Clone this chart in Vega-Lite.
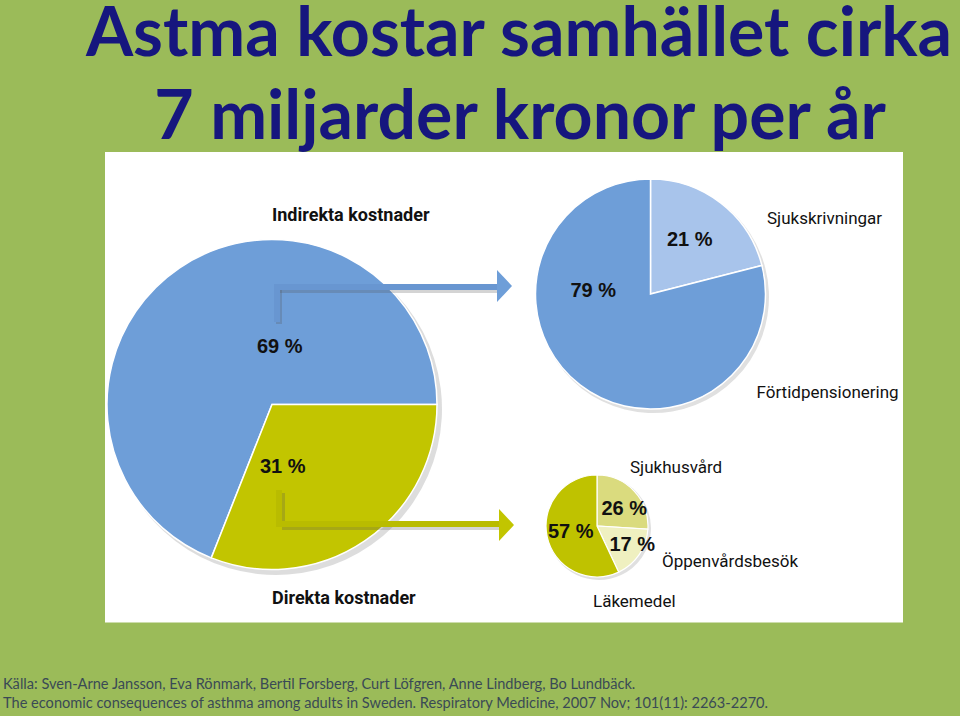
{
  "$schema": "https://vega.github.io/schema/vega-lite/v6.json",
  "width": 960,
  "height": 716,
  "padding": 0,
  "autosize": {"type": "none"},
  "background": "#9BBB59",
  "config": {"view": {"stroke": null}},
  "datasets": {
    "panel": [{"panel": "figur"}],
    "slices": [
      {"pie": "Totalt", "category": "Indirekta kostnader", "pct": 69},
      {"pie": "Totalt", "category": "Direkta kostnader", "pct": 31},
      {"pie": "Indirekta", "category": "Sjukskrivningar", "pct": 21},
      {"pie": "Indirekta", "category": "Förtidpensionering", "pct": 79},
      {"pie": "Direkta", "category": "Sjukhusvård", "pct": 26},
      {"pie": "Direkta", "category": "Öppenvårdsbesök", "pct": 17},
      {"pie": "Direkta", "category": "Läkemedel", "pct": 57}
    ],
    "texts": [
      {"kind": "title", "line": 1, "text": "Astma kostar samhället cirka"},
      {"kind": "title", "line": 2, "text": "7 miljarder kronor per år"},
      {"kind": "source", "line": 1, "text": "Källa: Sven-Arne Jansson, Eva Rönmark, Bertil Forsberg, Curt Löfgren, Anne Lindberg, Bo Lundbäck."},
      {"kind": "source", "line": 2, "text": "The economic consequences of asthma among adults in Sweden. Respiratory Medicine, 2007 Nov; 101(11): 2263-2270."}
    ]
  },
  "data": {"name": "panel"},
  "resolve": {"scale": {"theta": "independent"}},
  "layer": [
    {
      "mark": {"type": "rect", "color": "white"},
      "encoding": {
        "x": {"datum": 105, "type": "quantitative", "scale": {"domain": [0, 960], "nice": false, "zero": false}, "axis": null},
        "x2": {"datum": 903},
        "y": {"datum": 152, "type": "quantitative", "scale": {"domain": [0, 716], "nice": false, "zero": false, "reverse": true}, "axis": null},
        "y2": {"datum": 622.5}
      }
    },
    {
      "data": {"name": "slices"},
      "transform": [{"filter": "datum.pie === 'Totalt'"}],
      "mark": {"type": "arc", "radius": 166, "color": "#666666", "opacity": 0.22},
      "encoding": {
        "x": {"datum": 276, "type": "quantitative", "scale": {"domain": [0, 960], "nice": false, "zero": false}, "axis": null},
        "y": {"datum": 409, "type": "quantitative", "scale": {"domain": [0, 716], "nice": false, "zero": false, "reverse": true}, "axis": null},
        "theta": {"field": "pct", "type": "quantitative", "stack": true}
      }
    },
    {
      "data": {"name": "slices"},
      "transform": [{"filter": "datum.pie === 'Indirekta'"}],
      "mark": {"type": "arc", "radius": 116, "color": "#666666", "opacity": 0.2},
      "encoding": {
        "x": {"datum": 653, "type": "quantitative", "scale": {"domain": [0, 960], "nice": false, "zero": false}, "axis": null},
        "y": {"datum": 297, "type": "quantitative", "scale": {"domain": [0, 716], "nice": false, "zero": false, "reverse": true}, "axis": null},
        "theta": {"field": "pct", "type": "quantitative", "stack": true}
      }
    },
    {
      "data": {"name": "slices"},
      "transform": [{"filter": "datum.pie === 'Direkta'"}],
      "mark": {"type": "arc", "radius": 52, "color": "#666666", "opacity": 0.2},
      "encoding": {
        "x": {"datum": 599, "type": "quantitative", "scale": {"domain": [0, 960], "nice": false, "zero": false}, "axis": null},
        "y": {"datum": 528, "type": "quantitative", "scale": {"domain": [0, 716], "nice": false, "zero": false, "reverse": true}, "axis": null},
        "theta": {"field": "pct", "type": "quantitative", "stack": true}
      }
    },
    {
      "data": {"name": "slices"},
      "transform": [{"filter": "datum.pie === 'Totalt'"}],
      "mark": {"type": "arc", "radius": 165, "stroke": "white", "strokeWidth": 1.5},
      "encoding": {
        "x": {"datum": 272, "type": "quantitative", "scale": {"domain": [0, 960], "nice": false, "zero": false}, "axis": null},
        "y": {"datum": 404.5, "type": "quantitative", "scale": {"domain": [0, 716], "nice": false, "zero": false, "reverse": true}, "axis": null},
        "theta": {"field": "pct", "type": "quantitative", "stack": true, "scale": {"range": [3.5186, 9.8018]}},
        "order": {"field": "pct", "sort": "descending"},
        "color": {
          "field": "category", "type": "nominal", "legend": null,
          "scale": {
            "domain": ["Indirekta kostnader", "Direkta kostnader", "Sjukskrivningar", "Förtidpensionering", "Sjukhusvård", "Öppenvårdsbesök", "Läkemedel"],
            "range": ["#6E9ED8", "#C2C500", "#A8C4EB", "#6E9ED8", "#DADB7E", "#EFF0C0", "#BFC200"]
          }
        }
      }
    },
    {
      "data": {"name": "slices"},
      "transform": [{"filter": "datum.pie === 'Indirekta'"}],
      "mark": {"type": "arc", "radius": 115, "stroke": "white", "strokeWidth": 1.5},
      "encoding": {
        "x": {"datum": 650.5, "type": "quantitative", "scale": {"domain": [0, 960], "nice": false, "zero": false}, "axis": null},
        "y": {"datum": 294, "type": "quantitative", "scale": {"domain": [0, 716], "nice": false, "zero": false, "reverse": true}, "axis": null},
        "theta": {"field": "pct", "type": "quantitative", "stack": true, "scale": {"range": [1.3195, 7.6027]}},
        "order": {"field": "pct", "sort": "descending"},
        "color": {"field": "category", "type": "nominal", "legend": null}
      }
    },
    {
      "data": {"name": "slices"},
      "transform": [{"filter": "datum.pie === 'Direkta'"}],
      "mark": {"type": "arc", "radius": 51, "stroke": "white", "strokeWidth": 1.2},
      "encoding": {
        "x": {"datum": 597, "type": "quantitative", "scale": {"domain": [0, 960], "nice": false, "zero": false}, "axis": null},
        "y": {"datum": 526, "type": "quantitative", "scale": {"domain": [0, 716], "nice": false, "zero": false, "reverse": true}, "axis": null},
        "theta": {"field": "pct", "type": "quantitative", "stack": true, "scale": {"range": [2.7018, 8.9850]}},
        "order": {"field": "pct", "sort": "descending"},
        "color": {"field": "category", "type": "nominal", "legend": null}
      }
    },
    {
      "mark": {"type": "rule", "color": "#555555", "opacity": 0.25, "strokeWidth": 6},
      "encoding": {
        "x": {"datum": 279, "type": "quantitative", "scale": {"domain": [0, 960], "nice": false, "zero": false}, "axis": null},
        "x2": {"datum": 499},
        "y": {"datum": 290, "type": "quantitative", "scale": {"domain": [0, 716], "nice": false, "zero": false, "reverse": true}, "axis": null},
        "y2": {"datum": 290}
      }
    },
    {
      "mark": {"type": "rule", "color": "#555555", "opacity": 0.25, "strokeWidth": 6},
      "encoding": {
        "x": {"datum": 279, "type": "quantitative", "scale": {"domain": [0, 960], "nice": false, "zero": false}, "axis": null},
        "y": {"datum": 290, "type": "quantitative", "scale": {"domain": [0, 716], "nice": false, "zero": false, "reverse": true}, "axis": null},
        "y2": {"datum": 324}
      }
    },
    {
      "mark": {"type": "rule", "color": "#6896D1", "strokeWidth": 6},
      "encoding": {
        "x": {"datum": 274, "type": "quantitative", "scale": {"domain": [0, 960], "nice": false, "zero": false}, "axis": null},
        "x2": {"datum": 498},
        "y": {"datum": 287, "type": "quantitative", "scale": {"domain": [0, 716], "nice": false, "zero": false, "reverse": true}, "axis": null},
        "y2": {"datum": 287}
      }
    },
    {
      "mark": {"type": "rule", "color": "#6896D1", "strokeWidth": 6},
      "encoding": {
        "x": {"datum": 277, "type": "quantitative", "scale": {"domain": [0, 960], "nice": false, "zero": false}, "axis": null},
        "y": {"datum": 284, "type": "quantitative", "scale": {"domain": [0, 716], "nice": false, "zero": false, "reverse": true}, "axis": null},
        "y2": {"datum": 322}
      }
    },
    {
      "mark": {"type": "point", "filled": true, "color": "#6E9ED8", "opacity": 1, "size": 1024, "shape": "M-0.47,-1L0.47,0L-0.47,1Z"},
      "encoding": {
        "x": {"datum": 504.5, "type": "quantitative", "scale": {"domain": [0, 960], "nice": false, "zero": false}, "axis": null},
        "y": {"datum": 286, "type": "quantitative", "scale": {"domain": [0, 716], "nice": false, "zero": false, "reverse": true}, "axis": null}
      }
    },
    {
      "mark": {"type": "rule", "color": "#555555", "opacity": 0.25, "strokeWidth": 6},
      "encoding": {
        "x": {"datum": 282, "type": "quantitative", "scale": {"domain": [0, 960], "nice": false, "zero": false}, "axis": null},
        "x2": {"datum": 500},
        "y": {"datum": 527, "type": "quantitative", "scale": {"domain": [0, 716], "nice": false, "zero": false, "reverse": true}, "axis": null},
        "y2": {"datum": 527}
      }
    },
    {
      "mark": {"type": "rule", "color": "#555555", "opacity": 0.25, "strokeWidth": 6},
      "encoding": {
        "x": {"datum": 282, "type": "quantitative", "scale": {"domain": [0, 960], "nice": false, "zero": false}, "axis": null},
        "y": {"datum": 493, "type": "quantitative", "scale": {"domain": [0, 716], "nice": false, "zero": false, "reverse": true}, "axis": null},
        "y2": {"datum": 527}
      }
    },
    {
      "mark": {"type": "rule", "color": "#B9BC00", "strokeWidth": 6},
      "encoding": {
        "x": {"datum": 276, "type": "quantitative", "scale": {"domain": [0, 960], "nice": false, "zero": false}, "axis": null},
        "x2": {"datum": 499},
        "y": {"datum": 524, "type": "quantitative", "scale": {"domain": [0, 716], "nice": false, "zero": false, "reverse": true}, "axis": null},
        "y2": {"datum": 524}
      }
    },
    {
      "mark": {"type": "rule", "color": "#B9BC00", "strokeWidth": 6},
      "encoding": {
        "x": {"datum": 279, "type": "quantitative", "scale": {"domain": [0, 960], "nice": false, "zero": false}, "axis": null},
        "y": {"datum": 490, "type": "quantitative", "scale": {"domain": [0, 716], "nice": false, "zero": false, "reverse": true}, "axis": null},
        "y2": {"datum": 527}
      }
    },
    {
      "mark": {"type": "point", "filled": true, "color": "#C2C500", "opacity": 1, "size": 1024, "shape": "M-0.47,-1L0.47,0L-0.47,1Z"},
      "encoding": {
        "x": {"datum": 506.5, "type": "quantitative", "scale": {"domain": [0, 960], "nice": false, "zero": false}, "axis": null},
        "y": {"datum": 525, "type": "quantitative", "scale": {"domain": [0, 716], "nice": false, "zero": false, "reverse": true}, "axis": null}
      }
    },
    {
      "data": {"name": "slices"},
      "transform": [{"filter": "datum.category === 'Indirekta kostnader'"}],
      "mark": {"type": "text", "align": "left", "baseline": "alphabetic", "font": "Roboto, sans-serif", "fontWeight": "bold", "fontSize": 18, "color": "#111111"},
      "encoding": {
        "x": {"datum": 272, "type": "quantitative", "scale": {"domain": [0, 960], "nice": false, "zero": false}, "axis": null},
        "y": {"datum": 221, "type": "quantitative", "scale": {"domain": [0, 716], "nice": false, "zero": false, "reverse": true}, "axis": null},
        "text": {"field": "category"}
      }
    },
    {
      "data": {"name": "slices"},
      "transform": [{"filter": "datum.category === 'Direkta kostnader'"}],
      "mark": {"type": "text", "align": "left", "baseline": "alphabetic", "font": "Roboto, sans-serif", "fontWeight": "bold", "fontSize": 18, "color": "#111111"},
      "encoding": {
        "x": {"datum": 272, "type": "quantitative", "scale": {"domain": [0, 960], "nice": false, "zero": false}, "axis": null},
        "y": {"datum": 604, "type": "quantitative", "scale": {"domain": [0, 716], "nice": false, "zero": false, "reverse": true}, "axis": null},
        "text": {"field": "category"}
      }
    },
    {
      "data": {"name": "slices"},
      "transform": [{"filter": "datum.category === 'Sjukskrivningar'"}],
      "mark": {"type": "text", "align": "left", "baseline": "alphabetic", "font": "Roboto, sans-serif", "fontSize": 17, "color": "#111111"},
      "encoding": {
        "x": {"datum": 767, "type": "quantitative", "scale": {"domain": [0, 960], "nice": false, "zero": false}, "axis": null},
        "y": {"datum": 224, "type": "quantitative", "scale": {"domain": [0, 716], "nice": false, "zero": false, "reverse": true}, "axis": null},
        "text": {"field": "category"}
      }
    },
    {
      "data": {"name": "slices"},
      "transform": [{"filter": "datum.category === 'Förtidpensionering'"}],
      "mark": {"type": "text", "align": "left", "baseline": "alphabetic", "font": "Roboto, sans-serif", "fontSize": 17, "color": "#111111"},
      "encoding": {
        "x": {"datum": 756.5, "type": "quantitative", "scale": {"domain": [0, 960], "nice": false, "zero": false}, "axis": null},
        "y": {"datum": 398, "type": "quantitative", "scale": {"domain": [0, 716], "nice": false, "zero": false, "reverse": true}, "axis": null},
        "text": {"field": "category"}
      }
    },
    {
      "data": {"name": "slices"},
      "transform": [{"filter": "datum.category === 'Sjukhusvård'"}],
      "mark": {"type": "text", "align": "left", "baseline": "alphabetic", "font": "Roboto, sans-serif", "fontSize": 17, "color": "#111111"},
      "encoding": {
        "x": {"datum": 630, "type": "quantitative", "scale": {"domain": [0, 960], "nice": false, "zero": false}, "axis": null},
        "y": {"datum": 473, "type": "quantitative", "scale": {"domain": [0, 716], "nice": false, "zero": false, "reverse": true}, "axis": null},
        "text": {"field": "category"}
      }
    },
    {
      "data": {"name": "slices"},
      "transform": [{"filter": "datum.category === 'Öppenvårdsbesök'"}],
      "mark": {"type": "text", "align": "left", "baseline": "alphabetic", "font": "Roboto, sans-serif", "fontSize": 17, "color": "#111111"},
      "encoding": {
        "x": {"datum": 662, "type": "quantitative", "scale": {"domain": [0, 960], "nice": false, "zero": false}, "axis": null},
        "y": {"datum": 567, "type": "quantitative", "scale": {"domain": [0, 716], "nice": false, "zero": false, "reverse": true}, "axis": null},
        "text": {"field": "category"}
      }
    },
    {
      "data": {"name": "slices"},
      "transform": [{"filter": "datum.category === 'Läkemedel'"}],
      "mark": {"type": "text", "align": "left", "baseline": "alphabetic", "font": "Roboto, sans-serif", "fontSize": 17, "color": "#111111"},
      "encoding": {
        "x": {"datum": 593, "type": "quantitative", "scale": {"domain": [0, 960], "nice": false, "zero": false}, "axis": null},
        "y": {"datum": 607, "type": "quantitative", "scale": {"domain": [0, 716], "nice": false, "zero": false, "reverse": true}, "axis": null},
        "text": {"field": "category"}
      }
    },
    {
      "data": {"name": "slices"},
      "transform": [{"filter": "datum.category === 'Indirekta kostnader'"}, {"calculate": "datum.pct + ' %'", "as": "etikett"}],
      "mark": {"type": "text", "align": "left", "baseline": "alphabetic", "font": "Liberation Sans, Arial, sans-serif", "fontWeight": "bold", "fontSize": 20, "color": "#111111"},
      "encoding": {
        "x": {"datum": 257, "type": "quantitative", "scale": {"domain": [0, 960], "nice": false, "zero": false}, "axis": null},
        "y": {"datum": 353, "type": "quantitative", "scale": {"domain": [0, 716], "nice": false, "zero": false, "reverse": true}, "axis": null},
        "text": {"field": "etikett"}
      }
    },
    {
      "data": {"name": "slices"},
      "transform": [{"filter": "datum.category === 'Direkta kostnader'"}, {"calculate": "datum.pct + ' %'", "as": "etikett"}],
      "mark": {"type": "text", "align": "left", "baseline": "alphabetic", "font": "Liberation Sans, Arial, sans-serif", "fontWeight": "bold", "fontSize": 20, "color": "#111111"},
      "encoding": {
        "x": {"datum": 260, "type": "quantitative", "scale": {"domain": [0, 960], "nice": false, "zero": false}, "axis": null},
        "y": {"datum": 473, "type": "quantitative", "scale": {"domain": [0, 716], "nice": false, "zero": false, "reverse": true}, "axis": null},
        "text": {"field": "etikett"}
      }
    },
    {
      "data": {"name": "slices"},
      "transform": [{"filter": "datum.category === 'Förtidpensionering'"}, {"calculate": "datum.pct + ' %'", "as": "etikett"}],
      "mark": {"type": "text", "align": "left", "baseline": "alphabetic", "font": "Liberation Sans, Arial, sans-serif", "fontWeight": "bold", "fontSize": 20, "color": "#111111"},
      "encoding": {
        "x": {"datum": 570.5, "type": "quantitative", "scale": {"domain": [0, 960], "nice": false, "zero": false}, "axis": null},
        "y": {"datum": 297, "type": "quantitative", "scale": {"domain": [0, 716], "nice": false, "zero": false, "reverse": true}, "axis": null},
        "text": {"field": "etikett"}
      }
    },
    {
      "data": {"name": "slices"},
      "transform": [{"filter": "datum.category === 'Sjukskrivningar'"}, {"calculate": "datum.pct + ' %'", "as": "etikett"}],
      "mark": {"type": "text", "align": "left", "baseline": "alphabetic", "font": "Liberation Sans, Arial, sans-serif", "fontWeight": "bold", "fontSize": 20, "color": "#111111"},
      "encoding": {
        "x": {"datum": 667, "type": "quantitative", "scale": {"domain": [0, 960], "nice": false, "zero": false}, "axis": null},
        "y": {"datum": 246, "type": "quantitative", "scale": {"domain": [0, 716], "nice": false, "zero": false, "reverse": true}, "axis": null},
        "text": {"field": "etikett"}
      }
    },
    {
      "data": {"name": "slices"},
      "transform": [{"filter": "datum.category === 'Sjukhusvård'"}, {"calculate": "datum.pct + ' %'", "as": "etikett"}],
      "mark": {"type": "text", "align": "left", "baseline": "alphabetic", "font": "Liberation Sans, Arial, sans-serif", "fontWeight": "bold", "fontSize": 20, "color": "#111111"},
      "encoding": {
        "x": {"datum": 601.5, "type": "quantitative", "scale": {"domain": [0, 960], "nice": false, "zero": false}, "axis": null},
        "y": {"datum": 515, "type": "quantitative", "scale": {"domain": [0, 716], "nice": false, "zero": false, "reverse": true}, "axis": null},
        "text": {"field": "etikett"}
      }
    },
    {
      "data": {"name": "slices"},
      "transform": [{"filter": "datum.category === 'Läkemedel'"}, {"calculate": "datum.pct + ' %'", "as": "etikett"}],
      "mark": {"type": "text", "align": "left", "baseline": "alphabetic", "font": "Liberation Sans, Arial, sans-serif", "fontWeight": "bold", "fontSize": 20, "color": "#111111"},
      "encoding": {
        "x": {"datum": 548, "type": "quantitative", "scale": {"domain": [0, 960], "nice": false, "zero": false}, "axis": null},
        "y": {"datum": 538, "type": "quantitative", "scale": {"domain": [0, 716], "nice": false, "zero": false, "reverse": true}, "axis": null},
        "text": {"field": "etikett"}
      }
    },
    {
      "data": {"name": "slices"},
      "transform": [{"filter": "datum.category === 'Öppenvårdsbesök'"}, {"calculate": "datum.pct + ' %'", "as": "etikett"}],
      "mark": {"type": "text", "align": "left", "baseline": "alphabetic", "font": "Liberation Sans, Arial, sans-serif", "fontWeight": "bold", "fontSize": 20, "color": "#111111"},
      "encoding": {
        "x": {"datum": 609.5, "type": "quantitative", "scale": {"domain": [0, 960], "nice": false, "zero": false}, "axis": null},
        "y": {"datum": 551, "type": "quantitative", "scale": {"domain": [0, 716], "nice": false, "zero": false, "reverse": true}, "axis": null},
        "text": {"field": "etikett"}
      }
    },
    {
      "data": {"name": "texts"},
      "transform": [{"filter": "datum.kind === 'title' && datum.line === 1"}],
      "mark": {"type": "text", "align": "center", "baseline": "alphabetic", "font": "Lato, sans-serif", "fontWeight": "bold", "fontSize": 68, "color": "#16167E"},
      "encoding": {
        "x": {"datum": 519, "type": "quantitative", "scale": {"domain": [0, 960], "nice": false, "zero": false}, "axis": null},
        "y": {"datum": 56, "type": "quantitative", "scale": {"domain": [0, 716], "nice": false, "zero": false, "reverse": true}, "axis": null},
        "text": {"field": "text"}
      }
    },
    {
      "data": {"name": "texts"},
      "transform": [{"filter": "datum.kind === 'title' && datum.line === 2"}],
      "mark": {"type": "text", "align": "center", "baseline": "alphabetic", "font": "Lato, sans-serif", "fontWeight": "bold", "fontSize": 68, "color": "#16167E"},
      "encoding": {
        "x": {"datum": 520, "type": "quantitative", "scale": {"domain": [0, 960], "nice": false, "zero": false}, "axis": null},
        "y": {"datum": 139, "type": "quantitative", "scale": {"domain": [0, 716], "nice": false, "zero": false, "reverse": true}, "axis": null},
        "text": {"field": "text"}
      }
    },
    {
      "data": {"name": "texts"},
      "transform": [{"filter": "datum.kind === 'source' && datum.line === 1"}],
      "mark": {"type": "text", "align": "left", "baseline": "alphabetic", "font": "Lato, sans-serif", "fontSize": 14.6, "color": "#3A4A55"},
      "encoding": {
        "x": {"datum": 3, "type": "quantitative", "scale": {"domain": [0, 960], "nice": false, "zero": false}, "axis": null},
        "y": {"datum": 689, "type": "quantitative", "scale": {"domain": [0, 716], "nice": false, "zero": false, "reverse": true}, "axis": null},
        "text": {"field": "text"}
      }
    },
    {
      "data": {"name": "texts"},
      "transform": [{"filter": "datum.kind === 'source' && datum.line === 2"}],
      "mark": {"type": "text", "align": "left", "baseline": "alphabetic", "font": "Lato, sans-serif", "fontSize": 14.6, "color": "#3A4A55"},
      "encoding": {
        "x": {"datum": 3, "type": "quantitative", "scale": {"domain": [0, 960], "nice": false, "zero": false}, "axis": null},
        "y": {"datum": 708, "type": "quantitative", "scale": {"domain": [0, 716], "nice": false, "zero": false, "reverse": true}, "axis": null},
        "text": {"field": "text"}
      }
    }
  ]
}
